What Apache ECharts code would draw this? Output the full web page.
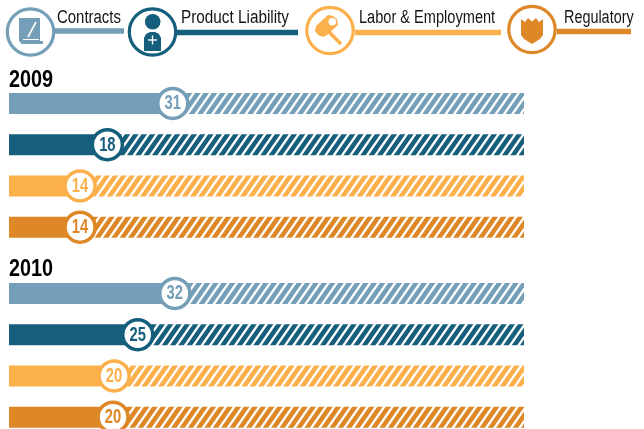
<!DOCTYPE html>
<html>
<head>
<meta charset="utf-8">
<script src="https://cdn.jsdelivr.net/npm/echarts@6/dist/echarts.min.js"></script>
<style>
  html, body { margin: 0; padding: 0; background: #fff; overflow: hidden; }
  /* taller than the window: the last row of markers runs off the bottom edge */
  #chart { width: 644px; height: 470px; }
</style>
</head>
<body>
<div id="chart"></div>
<script>
const categories = ["Contracts", "Product Liability", "Labor & Employment", "Regulatory"];
const years = ["2009", "2010"];
// printed numbers
const labels2009 = [31, 18, 14, 14];
const labels2010 = [32, 25, 20, 20];
// bar lengths as drawn in the picture, they stray a little from the printed numbers
const filled2009 = [31.8, 19.1, 13.8, 13.8];
const filled2010 = [32.2, 25, 20.4, 20.2];
const colors = ["#759EB8", "#155E7C", "#FCB04C", "#DE8726"];

// no condensed face installed, so the text gets squeezed with scaleX
const FONT = '"Liberation Sans", sans-serif';
const chart = echarts.init(document.getElementById("chart"));

// repeating tile with 3 white diagonal stripes, drawn past the tile edges so the seams close
function hatch(color) {
  const c = document.createElement("canvas");
  c.width = 25;
  c.height = 36;
  const ctx = c.getContext("2d");
  ctx.fillStyle = color;
  ctx.fillRect(0, 0, 25, 36);
  ctx.strokeStyle = "#fff";
  ctx.lineWidth = 2.4;
  for (let n = -9; n <= 9; n++) {
    const x = n * 25 / 3;
    ctx.beginPath();
    ctx.moveTo(x - 25, 72);
    ctx.lineTo(x + 50, -36);
    ctx.stroke();
  }
  return { image: c, repeat: "repeat" };
}

function yearSeries(i, filled, printed) {
  const stack = "bar" + i;
  return [
    {
      type: "bar", stack, xAxisIndex: i, yAxisIndex: i, barWidth: 21, silent: true,
      data: filled.map((v, k) => ({ value: v, itemStyle: { color: colors[k] } }))
    },
    {
      type: "bar", stack, xAxisIndex: i, yAxisIndex: i, barWidth: 21, silent: true,
      data: filled.map((v, k) => ({ value: 100 - v, itemStyle: { color: hatch(colors[k]) } }))
    },
    {
      type: "custom", xAxisIndex: i, yAxisIndex: i, z: 5, silent: true, clip: false,
      data: filled.map((v, k) => [v, k]),
      encode: { x: 0, y: 1 },
      renderItem(params, api) {
        const k = params.dataIndex;
        const p = api.coord([api.value(0), api.value(1)]);
        return {
          type: "group",
          children: [
            { type: "circle", shape: { cx: p[0], cy: p[1], r: 15 }, style: { fill: "#fff", stroke: colors[k], lineWidth: 3.5 } },
            {
              type: "text", x: p[0], y: p[1] + 0.5, scaleX: 0.74,
              style: { text: String(printed[k]), fill: colors[k], font: "bold 20px " + FONT, textAlign: "center", textVerticalAlign: "middle" }
            }
          ]
        };
      }
    }
  ];
}

function ring(cx, cy, i) {
  return { type: "circle", shape: { cx, cy, r: 23.2 }, style: { fill: "#fff", stroke: colors[i], lineWidth: 3.2 }, z: 3 };
}
function stem(x1, x2, y, i) {
  return { type: "rect", shape: { x: x1, y: y - 2.7, width: x2 - x1, height: 5.4 }, style: { fill: colors[i] }, z: 2 };
}
function name(x, i, squeeze) {
  return { type: "text", x, y: 18.5, scaleX: squeeze, style: { text: categories[i], fill: "#151515", font: "18px " + FONT, textVerticalAlign: "middle" }, z: 3 };
}
function year(y, s) {
  return { type: "text", x: 9, y, scaleX: 0.86, style: { text: s, fill: "#000", font: "bold 23px " + FONT, textVerticalAlign: "middle" }, z: 3 };
}
function blob(points, i) {
  return { type: "polygon", shape: { points }, style: { fill: colors[i] }, z: 4 };
}

const icons = [
  // contract sheet and pen
  blob([[19, 18], [40, 18], [40, 41], [43, 41], [43, 44], [22, 44], [19, 41]], 0),
  { type: "line", shape: { x1: 36, y1: 22, x2: 28, y2: 37 }, style: { stroke: "#fff", lineWidth: 1.6 }, z: 5 },
  { type: "line", shape: { x1: 23, y1: 39.5, x2: 39, y2: 39.5 }, style: { stroke: "#fff", lineWidth: 1 }, z: 5 },
  // person with cross
  { type: "circle", shape: { cx: 152.7, cy: 21.7, r: 7.8 }, style: { fill: colors[1] }, z: 4 },
  blob([[144, 51], [144, 38], [146, 34], [150, 32], [155, 32], [159, 34], [161, 38], [161, 51]], 1),
  { type: "line", shape: { x1: 148, y1: 40, x2: 157, y2: 40 }, style: { stroke: "#fff", lineWidth: 1.4 }, z: 5 },
  { type: "line", shape: { x1: 152.5, y1: 35.5, x2: 152.5, y2: 44.5 }, style: { stroke: "#fff", lineWidth: 1.4 }, z: 5 },
  // gavel
  { type: "line", shape: { x1: 329, y1: 32, x2: 341, y2: 44 }, style: { stroke: colors[2], lineWidth: 3.6 }, z: 4 },
  blob([[316, 26], [315, 31], [318, 35], [323, 37], [327, 35], [338, 25], [337, 19], [333, 16], [328, 15]], 2),
  { type: "circle", shape: { cx: 332.3, cy: 21.7, r: 3.8 }, style: { fill: "#fff" }, z: 5 },
  // shield
  blob([[521, 19], [525, 22], [528, 18], [532, 21.5], [536, 18], [539, 22], [543, 19], [543, 35], [540, 39], [532, 44], [524, 39], [521, 35]], 3)
];

const option = {
  animation: false,
  grid: [
    { left: 9, width: 515, top: 82.8, height: 165 },
    { left: 9, width: 515, top: 272.8, height: 165 }
  ],
  xAxis: [0, 1].map(i => ({ type: "value", gridIndex: i, min: 0, max: 100, show: false })),
  yAxis: [0, 1].map(i => ({ type: "category", gridIndex: i, inverse: true, data: categories, show: false })),
  series: [...yearSeries(0, filled2009, labels2009), ...yearSeries(1, filled2010, labels2010)],
  graphic: [
    stem(55, 124, 31, 0), stem(177, 298, 32.5, 1), stem(355, 501, 32.5, 2), stem(557, 631, 31.5, 3),
    ring(30.5, 32, 0), ring(152.5, 32, 1), ring(330, 30.5, 2), ring(532, 29.5, 3),
    name(57, 0, 0.83), name(181, 1, 0.85), name(359, 2, 0.81), name(564, 3, 0.8),
    year(81, years[0]), year(270, years[1]),
    ...icons
  ]
};

chart.setOption(option);
</script>
</body>
</html>
